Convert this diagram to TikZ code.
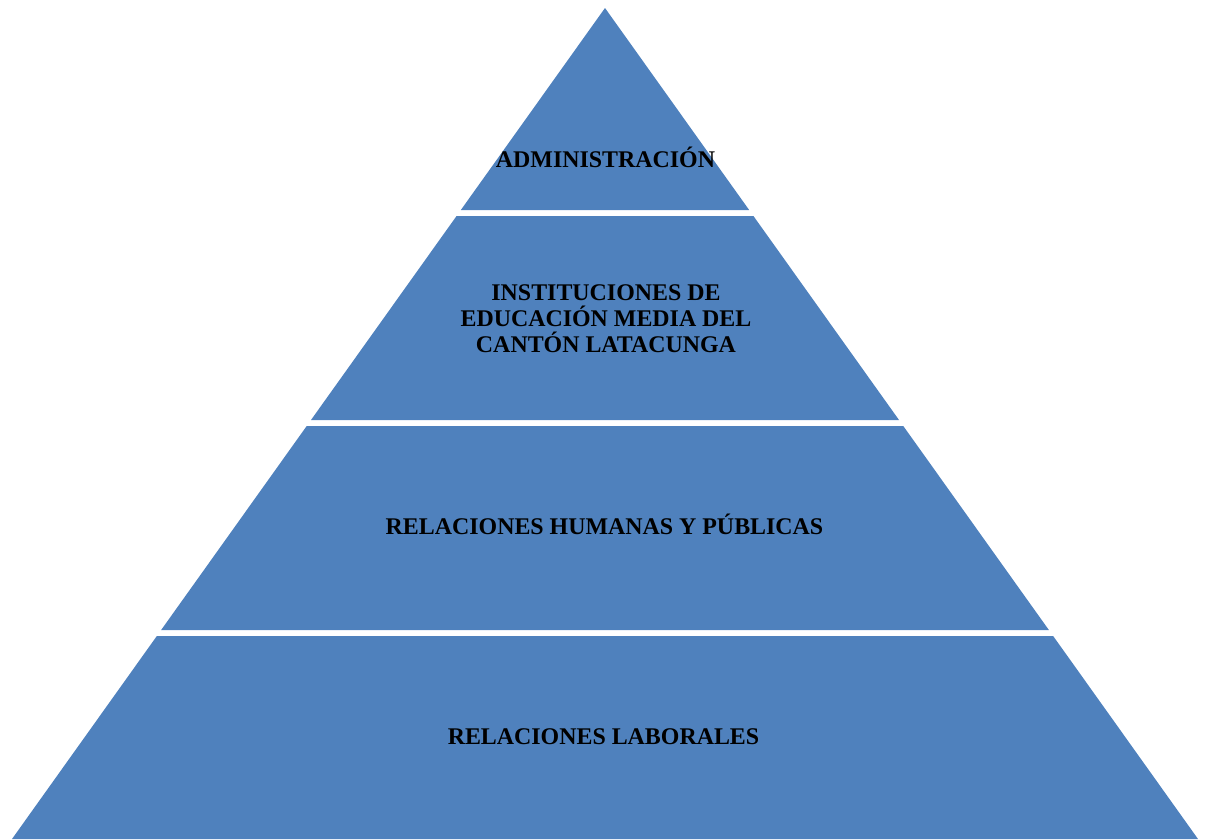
\documentclass[tikz,border=0pt]{standalone}
\usepackage{fontspec}
\setmainfont{Liberation Serif}
\definecolor{layerblue}{HTML}{4F81BD}
\tikzset{
  slab/.style={fill=layerblue, draw=none},
  lbl/.style={font=\bfseries\fontsize{23.9}{26}\selectfont, text=black,
              align=center, inner sep=0pt}
}
% one band of the pyramid between two heights (apex at (605,8))
\newcommand\pyrslab[2]{%
  \pgfmathsetmacro\halftop{0.713598*(#1-8)}%
  \pgfmathsetmacro\halfbot{0.713598*(#2-8)}%
  \fill[slab] (605-\halftop,#1) -- (605+\halftop,#1)
              -- (605+\halfbot,#2) -- (605-\halfbot,#2) -- cycle;}
\begin{document}
\begin{tikzpicture}[x=1pt, y=-1pt]
  \useasboundingbox (0,0) rectangle (1211,839);

  \pyrslab{8}{210}
  \pyrslab{216}{420}
  \pyrslab{426}{630}
  \pyrslab{636}{839}

  \node[lbl, anchor=base] (admin) at (605.5,167) {ADMINISTRACIÓN};
  \node[lbl, anchor=center] (inst) at (606,318.5)
    {INSTITUCIONES DE\\EDUCACIÓN MEDIA DEL\hspace*{7pt}\\CANTÓN LATACUNGA};
  \node[lbl, anchor=base] (rhp) at (604.5,534) {RELACIONES HUMANAS Y PÚBLICAS};
  \node[lbl, anchor=base] (rl) at (603.5,744) {RELACIONES LABORALES};
\end{tikzpicture}
\end{document}
